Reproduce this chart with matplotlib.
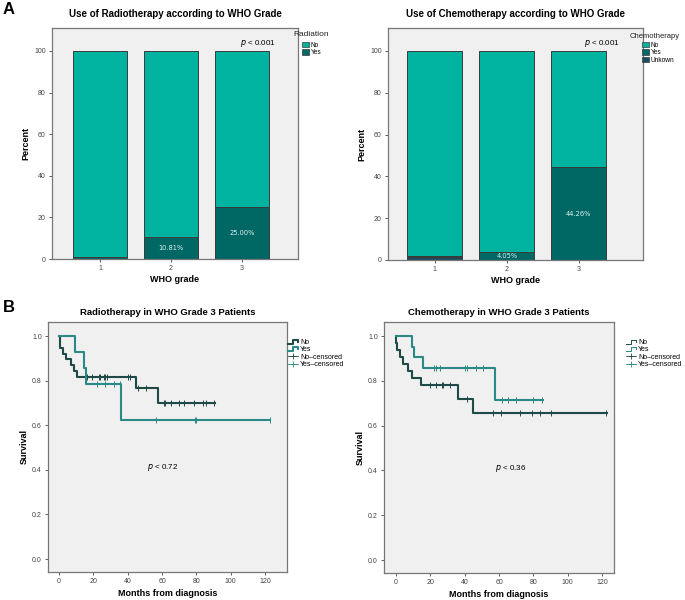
import matplotlib
matplotlib.use("Agg")
import matplotlib.pyplot as plt
from matplotlib.legend_handler import HandlerBase
from matplotlib.lines import Line2D
from matplotlib.patches import Patch

plt.rcParams["font.family"] = ["Liberation Sans", "DejaVu Sans"]

# ---- data: panel A (percent of patients per WHO grade)
grades = ["1", "2", "3"]
radio_yes = [0.8, 10.81, 25.00]
radio_no = [99.2, 89.19, 75.00]
radio_labels = ["", "10.81%", "25.00%"]

chemo_unknown = [1.3, 0.0, 0.0]
chemo_yes = [0.7, 4.05, 44.26]
chemo_no = [98.0, 95.95, 55.74]
chemo_labels = ["", "4.05%", "44.26%"]

# ---- data: panel B (Kaplan-Meier step points and censor times)
rt_no_t = [0, 0.3, 0.6, 2.3, 4.3, 6.8, 8.8, 10.5, 45, 57.5, 91]
rt_no_s = [1.0, 0.974, 0.947, 0.921, 0.895, 0.868, 0.842, 0.816, 0.765, 0.701, 0.701]
rt_no_cens = [16.5, 19.5, 23.3, 24, 26, 27, 28, 40, 41.5, 46, 50.5,
              61, 62, 65, 70, 72.5, 78.5, 84, 85.5, 90]
rt_yes_t = [0, 9.3, 14.5, 15.7, 35.9, 123]
rt_yes_s = [1.0, 0.929, 0.857, 0.786, 0.625, 0.625]
rt_yes_cens = [22, 27, 32, 35.5, 56.5, 79, 80, 123]

ct_no_t = [0, 0.2, 0.5, 2.3, 4.3, 6.8, 9.1, 14.4, 36.3, 44.7, 123]
ct_no_s = [1.0, 0.969, 0.938, 0.906, 0.875, 0.844, 0.813, 0.781, 0.721, 0.655, 0.655]
ct_no_cens = [19.5, 23, 26.6, 27.6, 31.5, 41.5, 56.5, 61, 72.5, 79, 84, 90, 122.5]
ct_yes_t = [0, 9.5, 10.7, 15.9, 57.7, 85.5]
ct_yes_s = [1.0, 0.952, 0.905, 0.857, 0.714, 0.714]
ct_yes_cens = [22.3, 23.3, 25.6, 40, 41.5, 46.5, 50.5, 62, 65, 70, 80, 85]

W, H = 685, 600
BG = "#f0f0f0"
C_NO = "#00b2a0"
C_YES = "#006864"
C_UNK = "#1c4d5e"
EDGE = "#3a3a3a"
KM_NO = "#1f4a47"
KM_YES = "#2b8a85"


def fx(px):
    return px / W


def fy(py):
    return 1 - py / H


class HandlerStep(HandlerBase):
    def create_artists(self, legend, orig_handle, xdescent, ydescent,
                       width, height, fontsize, trans):
        x0, x1 = -xdescent, -xdescent + width
        y0, y1 = -ydescent + 0.1 * height, -ydescent + 0.9 * height
        xm = x0 + 0.5 * width
        line = Line2D([x0, xm, xm, x1, x1], [y0, y0, y1, y1, y0 + 0.4 * height],
                      color=orig_handle.get_color(), lw=orig_handle.get_linewidth(),
                      transform=trans)
        return [line]


def style_axes(ax):
    ax.set_facecolor(BG)
    for sp in ax.spines.values():
        sp.set_color("#777777")
        sp.set_linewidth(0.9)
    ax.tick_params(labelsize=5, length=2.5, width=0.6, colors="#444444", pad=2)


def bar_panel(ax, stacks, labels, label_stack, title, legend_title, legend_names,
              xlim, leg_xy, title_xy, title_size):
    style_axes(ax)
    x = range(1, len(grades) + 1)
    bottom = [0.0] * len(grades)
    bottoms = []
    for vals, color in stacks:
        ax.bar(x, vals, width=0.76, bottom=bottom, color=color,
               edgecolor=EDGE, linewidth=0.7)
        bottoms.append(bottom)
        bottom = [b + v for b, v in zip(bottom, vals)]
    yes_vals = stacks[label_stack][0]
    base = bottoms[label_stack]
    for xi, y, b, lab in zip(x, yes_vals, base, labels):
        if lab:
            ax.text(xi, b + y / 2, lab, ha="center", va="center",
                    fontsize=4.8, color="#dff2ef", family="DejaVu Sans")
    ax.set_xticks(list(x))
    ax.set_xticklabels(grades)
    ax.set_xlim(*xlim)
    ax.set_ylim(0, 111)
    ax.set_yticks([0, 20, 40, 60, 80, 100])
    ax.set_title(title, fontsize=7, fontweight="bold", pad=8)
    ax.set_xlabel("WHO grade", fontsize=6.5, fontweight="bold", labelpad=2)
    ax.set_ylabel("Percent", fontsize=6.5, fontweight="bold", labelpad=3)
    ax.text(0.91, 0.935, r"$p$ < 0.001", transform=ax.transAxes,
            ha="right", va="center", fontsize=5.8)
    colors = [C_NO, C_YES, C_UNK][:len(legend_names)]
    handles = [Patch(facecolor=c, edgecolor=EDGE, linewidth=0.5) for c in colors]
    ax.legend(handles, legend_names, loc="upper left",
              bbox_to_anchor=(fx(leg_xy[0]), fy(leg_xy[1])),
              bbox_transform=ax.figure.transFigure,
              frameon=False, fontsize=4.7, handlelength=1.1, handleheight=0.9,
              handletextpad=0.25, labelspacing=0.05, borderpad=0.0,
              borderaxespad=0.0)
    ax.figure.text(fx(title_xy[0]), fy(title_xy[1]), legend_title,
                   fontsize=title_size, ha="left", va="center", color="#222222")


def km_panel(ax, no_t, no_s, no_c, yes_t, yes_s, yes_c, title, ptext, pxy, xlim,
             leg_lw, leg_xy):
    style_axes(ax)
    ax.plot(no_t, no_s, drawstyle="steps-post", color=KM_NO, lw=1.5)
    ax.plot(yes_t, yes_s, drawstyle="steps-post", color=KM_YES, lw=1.5)

    def surv_at(t, ts, ss):
        v = ss[0]
        for ti, si in zip(ts, ss):
            if ti <= t:
                v = si
        return v

    ax.plot(no_c, [surv_at(t, no_t, no_s) for t in no_c], ls="none",
            marker="|", ms=4.5, mew=0.7, color=KM_NO)
    ax.plot(yes_c, [surv_at(t, yes_t, yes_s) for t in yes_c], ls="none",
            marker="|", ms=4.5, mew=0.7, color=KM_YES)
    ax.set_xlim(*xlim)
    ax.set_ylim(-0.058, 1.063)
    ax.set_xticks([0, 20, 40, 60, 80, 100, 120])
    ax.set_yticks([0.0, 0.2, 0.4, 0.6, 0.8, 1.0])
    ax.set_yticklabels(["0.0", "0.2", "0.4", "0.6", "0.8", "1.0"])
    ax.set_title(title, fontsize=6.8, fontweight="bold", pad=5)
    ax.set_xlabel("Months from diagnosis", fontsize=6.5, fontweight="bold", labelpad=3)
    ax.set_ylabel("Survival", fontsize=6.5, fontweight="bold", labelpad=2)
    ax.text(pxy[0], pxy[1], r"$p$ < " + ptext, fontsize=5.8, ha="left", va="center")
    handles = [Line2D([], [], color=KM_NO, lw=leg_lw),
               Line2D([], [], color=KM_YES, lw=leg_lw),
               Line2D([], [], color=KM_NO, lw=0.6, marker="+", ms=5, mew=0.6),
               Line2D([], [], color=KM_YES, lw=0.6, marker="+", ms=5, mew=0.6)]
    ax.legend(handles, ["No", "Yes", "No\u2013censored", "Yes\u2013censored"],
              handler_map={handles[0]: HandlerStep(), handles[1]: HandlerStep()},
              loc="upper left", bbox_to_anchor=(fx(leg_xy[0]), fy(leg_xy[1])),
              bbox_transform=ax.figure.transFigure, frameon=False,
              fontsize=5, handlelength=1.5, handletextpad=0.25,
              labelspacing=0.05, borderpad=0.0, borderaxespad=0.0)


fig = plt.figure(figsize=(6.85, 6.0), dpi=100)
ax1 = fig.add_axes([0.0759, 0.5683, 0.359, 0.385])
ax2 = fig.add_axes([0.5664, 0.5667, 0.372, 0.3867])
ax3 = fig.add_axes([0.0701, 0.0467, 0.349, 0.4167])
ax4 = fig.add_axes([0.5606, 0.045, 0.3358, 0.4183])

bar_panel(ax1, [(radio_yes, C_YES), (radio_no, C_NO)], radio_labels, 0,
          "Use of Radiotherapy according to WHO Grade", "Radiation",
          ["No", "Yes"], (0.32, 3.79), (302, 42), (293, 35), 6)
bar_panel(ax2, [(chemo_unknown, C_UNK), (chemo_yes, C_YES), (chemo_no, C_NO)],
          chemo_labels, 1, "Use of Chemotherapy according to WHO Grade",
          "Chemotherapy", ["No", "Yes", "Unkown"], (0.35, 3.89), (642, 42),
          (630, 36), 5.5)

km_panel(ax3, rt_no_t, rt_no_s, rt_no_cens, rt_yes_t, rt_yes_s, rt_yes_cens,
         "Radiotherapy in WHO Grade 3 Patients", "0.72", (51, 0.41),
         (-6.4, 132.8), 1.5, (288, 339))
km_panel(ax4, ct_no_t, ct_no_s, ct_no_cens, ct_yes_t, ct_yes_s, ct_yes_cens,
         "Chemotherapy in WHO Grade 3 Patients", "0.36", (57.5, 0.41),
         (-7, 127), 0.7, (626, 339))

fig.text(fx(3), fy(10), "A", fontsize=12, fontweight="bold", va="center")
fig.text(fx(3), fy(307), "B", fontsize=12, fontweight="bold", va="center")

fig.savefig("out.png", dpi=100, facecolor="white")
